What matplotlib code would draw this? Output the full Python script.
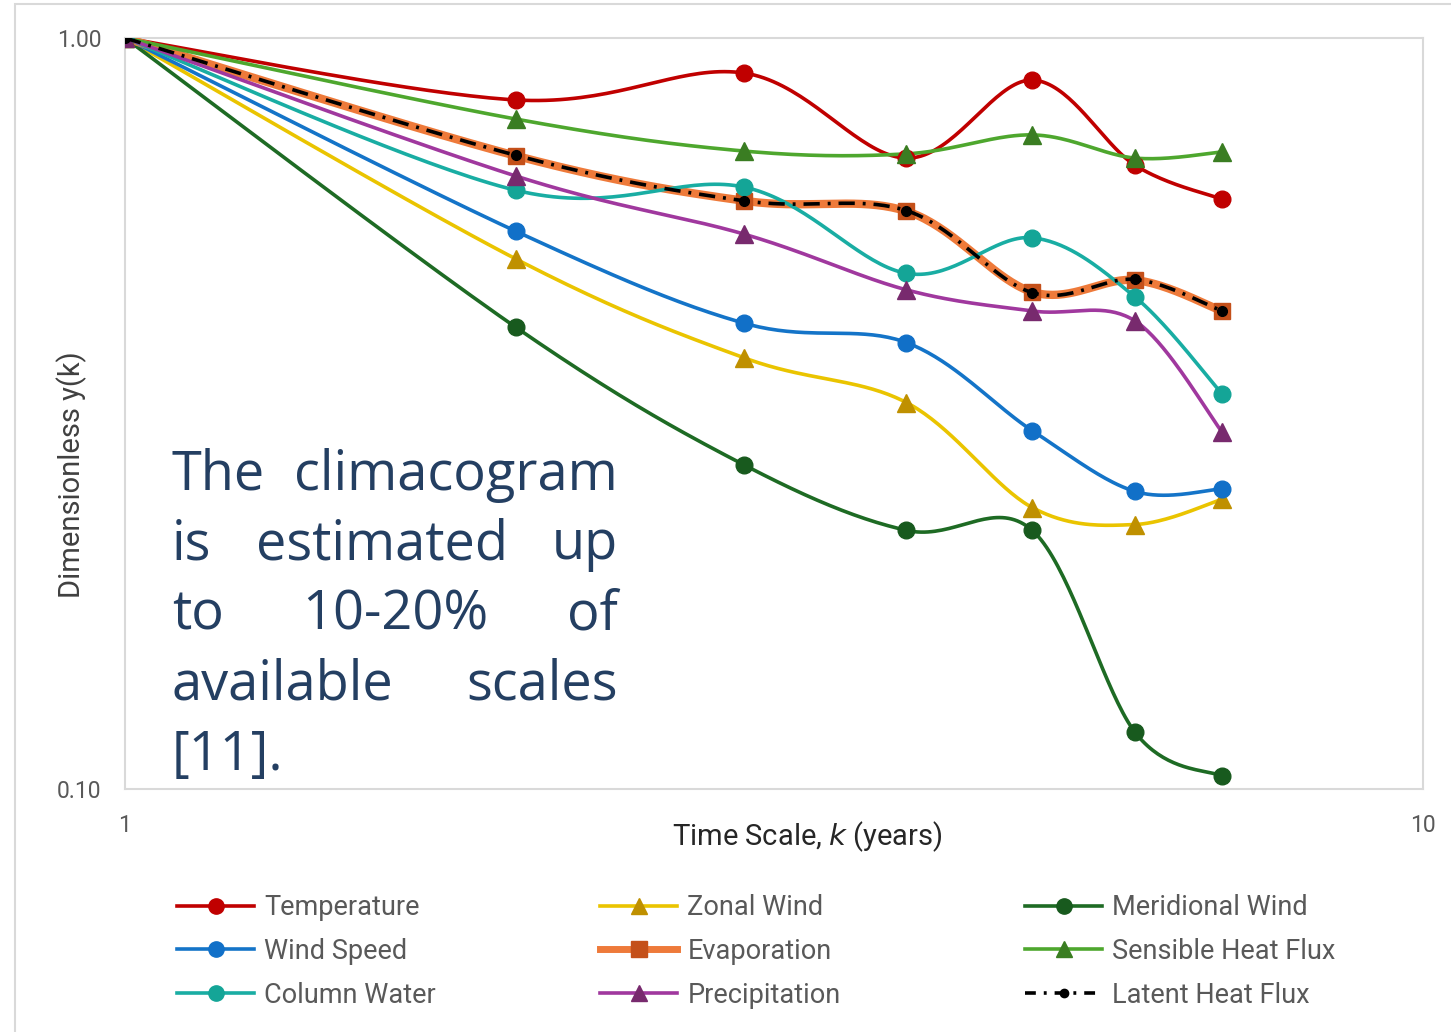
import numpy as np
import matplotlib
matplotlib.use("Agg")
import matplotlib.pyplot as plt
from matplotlib.lines import Line2D
from matplotlib.patches import Rectangle

# time scales k (years)
scales = [1, 2, 3, 4, 5, 6, 7]

# climacogram values per variable
temperature = [1.0, 0.827, 0.898, 0.692, 0.879, 0.677, 0.610]
zonal_wind = [1.0, 0.508, 0.375, 0.327, 0.237, 0.225, 0.243]
meridional_wind = [1.0, 0.412, 0.270, 0.221, 0.221, 0.119, 0.104]
wind_speed = [1.0, 0.553, 0.417, 0.393, 0.300, 0.249, 0.251]
evaporation = [1.0, 0.697, 0.607, 0.588, 0.459, 0.476, 0.433]
sensible_heat = [1.0, 0.780, 0.707, 0.701, 0.743, 0.692, 0.705]
column_water = [1.0, 0.627, 0.633, 0.486, 0.542, 0.452, 0.336]
precipitation = [1.0, 0.655, 0.548, 0.462, 0.433, 0.420, 0.299]
latent_heat = [1.0, 0.698, 0.607, 0.589, 0.458, 0.477, 0.433]

note_lines = [["The", "climacogram"],
              ["is", "estimated", "up"],
              ["to", "10-20%", "of"],
              ["available", "scales"],
              ["[11]."]]

FONT = "Roboto"
GRAY = "#595959"
NAVY = "#243F62"


def smooth(xs, ys, n=40):
    # Excel-like smoothed line: cubic Bezier segments built in log-log space
    p = np.column_stack([np.log10(xs), np.log10(ys)])
    segs = []
    t = np.linspace(0, 1, n)[:, None]
    for i in range(len(p) - 1):
        p0 = p[i - 1] if i > 0 else p[i]
        p1, p2 = p[i], p[i + 1]
        p3 = p[i + 2] if i + 2 < len(p) else p[i + 1]
        c1 = p1 + (p2 - p0) / 6.0
        c2 = p2 - (p3 - p1) / 6.0
        segs.append((1 - t) ** 3 * p1 + 3 * (1 - t) ** 2 * t * c1
                    + 3 * (1 - t) * t ** 2 * c2 + t ** 3 * p2)
    pts = 10 ** np.vstack(segs)
    return pts[:, 0], pts[:, 1]


fig = plt.figure(figsize=(14.51, 10.32), dpi=100)
W, H = 1451.0, 1032.0
ax = fig.add_axes([125 / W, 1 - 789 / H, 1298 / W, 751 / H])

# outer chart border
fig.patches.append(Rectangle((15 / W, -0.05), 1.1, 1 - 4 / H + 0.05,
                             transform=fig.transFigure, fill=False,
                             edgecolor="#D9D9D9", lw=1.5))

series = [
    ("Temperature", temperature, "#C00000", "#C00000", "o", 2.6),
    ("Zonal Wind", zonal_wind, "#EAC400", "#BF9000", "^", 2.6),
    ("Meridional Wind", meridional_wind, "#1E6B24", "#185A1E", "o", 2.6),
    ("Wind Speed", wind_speed, "#1474C8", "#1170C8", "o", 2.6),
    ("Evaporation", evaporation, "#EE7A3A", "#C4501A", "s", 6.0),
    ("Sensible Heat Flux", sensible_heat, "#4EA72E", "#3A7D22", "^", 2.6),
    ("Column Water", column_water, "#19ADA3", "#14A597", "o", 2.6),
    ("Precipitation", precipitation, "#A0389E", "#782A6E", "^", 2.6),
]

handles = {}
for name, vals, lc, mc, mk, lw in series:
    sx, sy = smooth(scales, vals)
    ax.plot(sx, sy, color=lc, lw=lw, solid_capstyle="round", zorder=3)
    ms = 12 if mk != "^" else 13
    ax.plot(scales, vals, ls="none", marker=mk, ms=ms, color=mc, zorder=4)
    handles[name] = Line2D([], [], color=lc, lw=lw if lw < 5 else 5,
                           marker=mk, ms=11, markerfacecolor=mc,
                           markeredgecolor=mc)

# latent heat flux drawn on top of evaporation
sx, sy = smooth(scales, latent_heat)
ax.plot(sx, sy, color="black", lw=2.6, dashes=(4.5, 2.2, 0.8, 2.2), zorder=5)
ax.plot(scales, latent_heat, ls="none", marker="o", ms=7, color="black", zorder=6)
handles["Latent Heat Flux"] = Line2D([], [], color="black", lw=2.6,
                                     dashes=(3, 2.2, 0.8, 2.2),
                                     marker="o", ms=6)

ax.set_xscale("log")
ax.set_yscale("log")
ax.set_xlim(1, 10)
ax.set_ylim(0.1, 1.0)
ax.set_xticks([1, 10])
ax.set_xticklabels(["1", "10"])
ax.set_yticks([0.1, 1.0])
ax.set_yticklabels(["0.10", "1.00"])
ax.minorticks_off()
ax.tick_params(length=0, labelsize=16.5, labelcolor=GRAY)
ax.tick_params(axis="x", pad=18)
ax.tick_params(axis="y", pad=17)
for lab in ax.get_xticklabels() + ax.get_yticklabels():
    lab.set_fontfamily(FONT)
for sp in ax.spines.values():
    sp.set_color("#D9D9D9")
    sp.set_linewidth(1.5)

ax.set_xlabel("Time Scale, $\\it{k}$ (years)", fontsize=21, color="#262626",
              family=FONT)
ax.xaxis.set_label_coords(0.526, -0.064)
ax.xaxis.label.set_va("center")
ax.set_ylabel("Dimensionless y(k)", fontsize=21, color="#404040", family=FONT)
ax.yaxis.set_label_coords(-0.041, 0.418)
ax.yaxis.label.set_va("center")

# legend: three columns placed side by side
cols = [["Temperature", "Wind Speed", "Column Water"],
        ["Zonal Wind", "Evaporation", "Precipitation"],
        ["Meridional Wind", "Sensible Heat Flux", "Latent Heat Flux"]]
col_x = [177, 600, 1025]
for cx, names in zip(col_x, cols):
    leg = fig.legend([handles[n] for n in names], names, loc="upper left",
                     bbox_to_anchor=(cx / W, 1 - 894 / H), frameon=False,
                     borderpad=0, borderaxespad=0, handlelength=2.85,
                     handletextpad=0.38, labelspacing=0.62,
                     prop={"family": FONT, "size": 19.5})
    for txt in leg.get_texts():
        txt.set_color(GRAY)

# justified note inside the plot
fig.canvas.draw()
renderer = fig.canvas.get_renderer()
left, right = 172, 618
baselines = [490, 559, 629, 700, 770]
for words, base in zip(note_lines, baselines):
    texts = [fig.text(0, 1 - base / H, w, fontsize=39, color=NAVY,
                      family="Open Sans", va="baseline", ha="left")
             for w in words]
    widths = [t.get_window_extent(renderer).width for t in texts]
    if len(words) == 1:
        texts[0].set_x(left / W)
        continue
    gap = (right - left - sum(widths)) / (len(words) - 1)
    x = left
    for t, w in zip(texts, widths):
        t.set_x(x / W)
        x += w + gap

fig.savefig("out.png", dpi=100)
